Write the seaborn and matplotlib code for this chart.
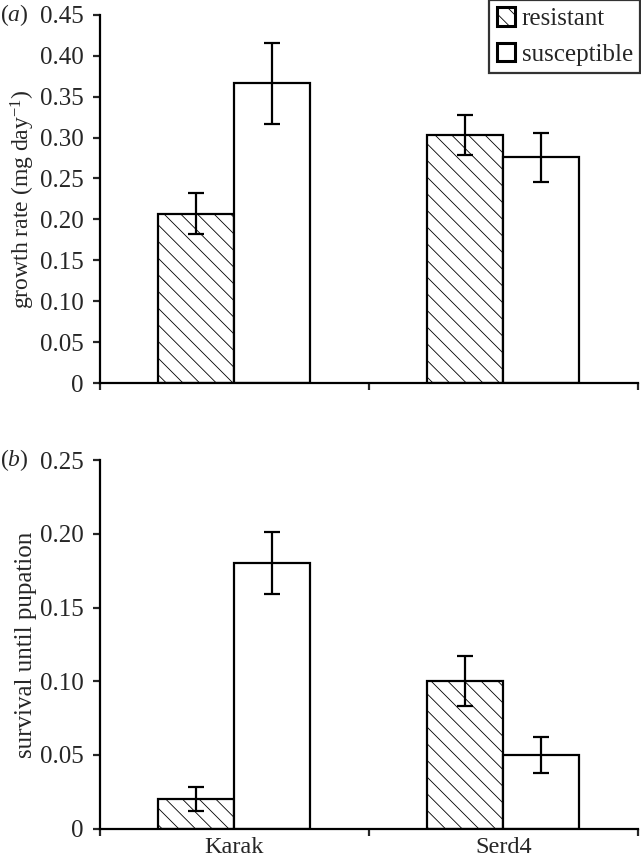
import numpy as np
import pandas as pd
import matplotlib
matplotlib.use('Agg')
import matplotlib.pyplot as plt
import seaborn as sns
from matplotlib.container import BarContainer
from matplotlib.ticker import FuncFormatter, MultipleLocator

sns.set_theme(style='white')
plt.rcParams['font.family'] = ['Liberation Serif', 'DejaVu Serif']
plt.rcParams['hatch.linewidth'] = 0.6
plt.rcParams['mathtext.fontset'] = 'custom'
plt.rcParams['mathtext.rm'] = 'Liberation Serif'
plt.rcParams['mathtext.it'] = 'Liberation Serif:italic'

# data
sites = ['Karak', 'Serd4']
groups = ['resistant', 'susceptible']
growth_res = [0.207, 0.303]
growth_sus = [0.366, 0.276]
growth_res_err = [0.025, 0.024]
growth_sus_err = [0.050, 0.030]
surv_res = [0.020, 0.100]
surv_sus = [0.180, 0.050]
surv_res_err = [0.008, 0.017]
surv_sus_err = [0.021, 0.012]

growth = pd.DataFrame({'site': sites * 2,
                       'group': ['resistant'] * 2 + ['susceptible'] * 2,
                       'value': growth_res + growth_sus,
                       'err': growth_res_err + growth_sus_err})
surv = pd.DataFrame({'site': sites * 2,
                     'group': ['resistant'] * 2 + ['susceptible'] * 2,
                     'value': surv_res + surv_sus,
                     'err': surv_res_err + surv_sus_err})

fig = plt.figure(figsize=(6.41, 8.65), dpi=100)
ax1 = fig.add_axes([0.156, 0.557, 0.839, 0.426])
ax2 = fig.add_axes([0.156, 0.042, 0.839, 0.426])


def draw(ax, df, ymax, ylabel, lsize):
    sns.barplot(x='site', y='value', hue='group', data=df, order=sites,
                hue_order=groups, palette=['white', 'white'], width=0.565,
                gap=0, errorbar=None, edgecolor='black', linewidth=1.6,
                legend=False, ax=ax)
    bars = [c for c in ax.containers if isinstance(c, BarContainer)]
    for cont, g in zip(bars, groups):
        sub = df[df['group'] == g].set_index('site').loc[sites]
        xs = [p.get_x() + p.get_width() / 2 for p in cont.patches]
        for p in cont.patches:
            if g == 'resistant':
                p.set_hatch('\\\\')
        ax.errorbar(xs, sub['value'], yerr=sub['err'], fmt='none',
                    ecolor='black', elinewidth=1.6, capsize=5.5, capthick=1.6)
    ax.set_xlim(-0.5, 1.5)
    ax.set_ylim(0, ymax)
    ax.yaxis.set_major_locator(MultipleLocator(0.05))
    ax.yaxis.set_major_formatter(FuncFormatter(lambda v, p: '0' if abs(v) < 1e-9 else f'{v:.2f}'))
    ax.set_xticks([-0.5, 0.5, 1.5])
    ax.set_xticks([0, 1], minor=True)
    ax.tick_params(axis='x', which='major', length=5, width=1.6, direction='out',
                   labelbottom=False, bottom=True)
    ax.tick_params(axis='x', which='minor', length=0, labelsize=17.5, pad=6)
    ax.tick_params(axis='y', length=5, width=1.6, direction='out', labelsize=18,
                   left=True, pad=7)
    for s in ['top', 'right']:
        ax.spines[s].set_visible(False)
    for s in ['left', 'bottom']:
        ax.spines[s].set_linewidth(1.6)
        ax.spines[s].set_color('black')
    ax.set_xlabel('')
    ax.set_ylabel(ylabel, fontsize=lsize, labelpad=2)
    return bars


bars1 = draw(ax1, growth, 0.45, r'growth rate (mg day$^{-1}$)', 17)
draw(ax2, surv, 0.25, 'survival until pupation', 18)
ax1.set_xticklabels([], minor=True)
ax2.set_xticklabels(sites, minor=True)

handles = [c.patches[0] for c in bars1]
leg = ax1.legend(handles, groups, loc='upper right', bbox_to_anchor=(1.005, 1.04),
                 fontsize=18, frameon=True, fancybox=False, handlelength=0.75,
                 handleheight=0.75, handletextpad=0.25, borderpad=0.3,
                 labelspacing=0.5, borderaxespad=0)
leg.get_frame().set_edgecolor('black')
leg.get_frame().set_linewidth(1.6)
for h in leg.legend_handles:
    h.set_linewidth(2.2)

fig.text(0.0, 0.983, '($a$)', fontsize=17, va='center', ha='left')
fig.text(0.0, 0.468, '($b$)', fontsize=17, va='center', ha='left')

fig.savefig('out.png', dpi=100)
